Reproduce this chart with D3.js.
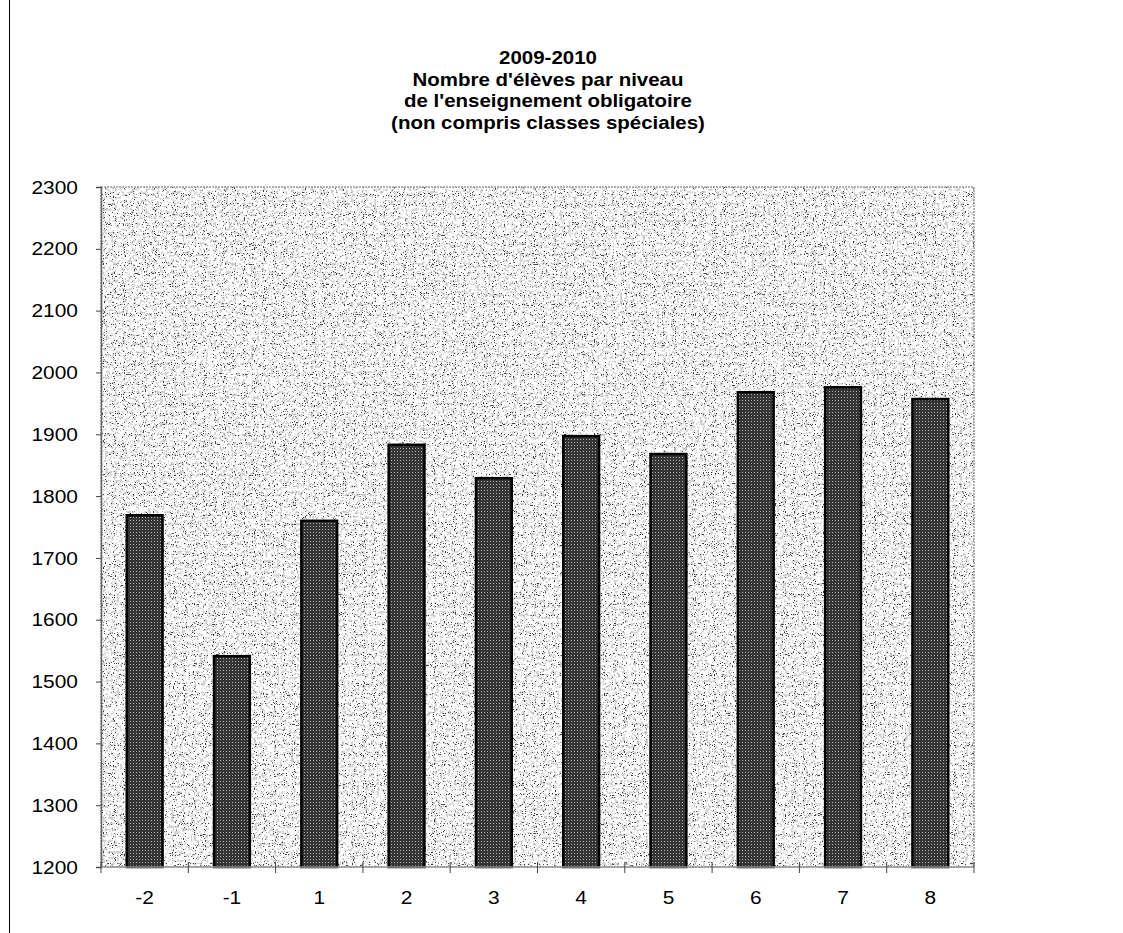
<!DOCTYPE html>
<html>
<head>
<meta charset="utf-8">
<script src="https://cdn.jsdelivr.net/npm/d3@7/dist/d3.min.js"></script>
<style>
  html, body { margin: 0; padding: 0; background: #fff; }
  svg { display: block; }
</style>
</head>
<body>
<svg id="chart" width="1123" height="933"></svg>
<script>
const categories = ["-2", "-1", "1", "2", "3", "4", "5", "6", "7", "8"];
const values = [1769, 1541, 1760, 1883, 1829, 1897, 1868, 1968, 1976, 1957];
const yTicks = [1200, 1300, 1400, 1500, 1600, 1700, 1800, 1900, 2000, 2100, 2200, 2300];
const titleLines = ["2009-2010", "Nombre d'élèves par niveau", "de l'enseignement obligatoire", "(non compris classes spéciales)"];

const svg = d3.select("#chart");
const W = 1123, H = 933;
const m = { left: 101, right: 974, top: 187, bottom: 867 };
const FONT = "Liberation Sans, Arial, sans-serif";
const SX = 1.1; // horizontal stretch of glyphs seen in reference

const defs = svg.append("defs");
// speckled background texture
const f = defs.append("filter").attr("id", "speckle")
  .attr("x", 0).attr("y", 0).attr("width", 1).attr("height", 1)
  .attr("filterUnits", "objectBoundingBox");
f.append("feFlood").attr("flood-color", "#ffffff").attr("result", "white");
f.append("feTurbulence").attr("type", "fractalNoise").attr("baseFrequency", 0.35)
  .attr("numOctaves", 3).attr("seed", 11).attr("result", "n2");
f.append("feColorMatrix").attr("in", "n2").attr("type", "matrix")
  .attr("values", "0 0 0 0 0.65  0 0 0 0 0.65  0 0 0 0 0.65  -14 0 0 0 6.3")
  .attr("result", "grey");
f.append("feTurbulence").attr("type", "fractalNoise").attr("baseFrequency", 0.9)
  .attr("numOctaves", 1).attr("seed", 5).attr("result", "n1");
f.append("feColorMatrix").attr("in", "n1").attr("type", "matrix")
  .attr("values", "0 0 0 0 0.05  0 0 0 0 0.05  0 0 0 0 0.05  -14 0 0 0 5.3")
  .attr("result", "black");
f.append("feMerge").selectAll("feMergeNode").data(["white", "grey", "black"]).enter()
  .append("feMergeNode").attr("in", d => d);

// bar texture
const p = defs.append("pattern").attr("id", "barpat").attr("patternUnits", "userSpaceOnUse")
  .attr("width", 3).attr("height", 3);
p.append("rect").attr("width", 3).attr("height", 3).attr("fill", "#353535");
p.append("rect").attr("x", 1).attr("y", 1).attr("width", 1).attr("height", 1).attr("fill", "#b0b0b0");

// left border line of the page
svg.append("line").attr("x1", 9.5).attr("x2", 9.5).attr("y1", 0).attr("y2", H)
  .attr("stroke", "#000").attr("stroke-width", 1);

const x = d3.scaleBand().domain(categories).range([m.left, m.right]).paddingInner(0.59).paddingOuter(0.295);
const xb = d3.scaleBand().domain(categories).range([m.left, m.right]).padding(0);
const y = d3.scaleLinear().domain([1200, 2300]).range([m.bottom, m.top]);

// plot area
svg.append("rect").attr("x", m.left).attr("y", m.top)
  .attr("width", m.right - m.left).attr("height", m.bottom - m.top)
  .attr("fill", "#fff").attr("filter", "url(#speckle)");
svg.append("rect").attr("x", m.left).attr("y", m.top)
  .attr("width", m.right - m.left).attr("height", m.bottom - m.top)
  .attr("fill", "none").attr("stroke", "#999").attr("stroke-width", 1.5)
  .attr("stroke-dasharray", "2,1");

// bars
svg.append("g").selectAll("rect").data(values).enter().append("rect")
  .attr("x", (d, i) => x(categories[i]))
  .attr("width", x.bandwidth())
  .attr("y", d => y(d))
  .attr("height", d => y(1200) - y(d))
  .attr("fill", "url(#barpat)")
  .attr("stroke", "#000").attr("stroke-width", 2.5);

// y axis
const yAxis = d3.axisLeft(y).tickValues(yTicks).tickSize(5).tickPadding(0).tickFormat(d3.format("d"));
const gy = svg.append("g").attr("transform", `translate(${m.left},0)`).call(yAxis);
gy.select(".domain").attr("stroke", "#666").attr("stroke-width", 1.5);
gy.selectAll(".tick line").attr("stroke", "#444");
gy.selectAll(".tick text")
  .attr("x", 0)
  .attr("transform", `translate(-23,0) scale(${SX},1)`)
  .attr("font-family", FONT).attr("font-size", 19).attr("fill", "#000");

// x axis: ticks at category boundaries
const gx = svg.append("g").attr("transform", `translate(0,${m.bottom})`);
gx.append("line").attr("x1", m.left).attr("x2", m.right).attr("stroke", "#999").attr("stroke-width", 1.5);
gx.selectAll("line.tk").data(categories.concat(["end"])).enter().append("line").attr("class", "tk")
  .attr("x1", (d, i) => i < categories.length ? xb(d) : m.right)
  .attr("x2", (d, i) => i < categories.length ? xb(d) : m.right)
  .attr("y1", -5).attr("y2", 6).attr("stroke", "#444");
gx.selectAll("text").data(categories).enter().append("text")
  .attr("transform", d => `translate(${xb(d) + xb.bandwidth() / 2},37) scale(${SX},1)`)
  .attr("text-anchor", "middle")
  .attr("font-family", FONT)
  .attr("font-size", 19).attr("fill", "#000")
  .text(d => d);

// title
svg.append("g").selectAll("text").data(titleLines).enter().append("text")
  .attr("transform", (d, i) => `translate(548,${64 + i * 21.5}) scale(${SX},1)`)
  .attr("text-anchor", "middle")
  .attr("font-family", FONT)
  .attr("font-weight", "bold")
  .attr("font-size", 18.6)
  .text(d => d);
</script>
</body>
</html>
